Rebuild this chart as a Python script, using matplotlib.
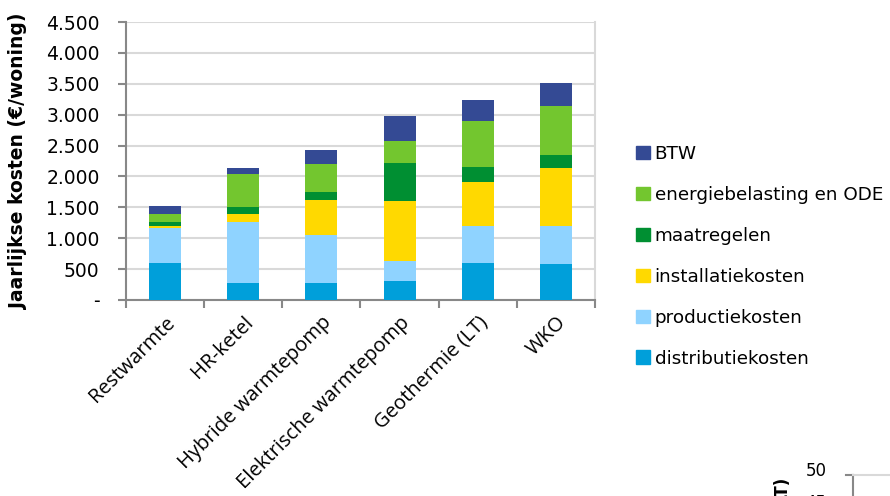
import numpy as np
import matplotlib
matplotlib.use("Agg")
import matplotlib.pyplot as plt
from matplotlib.ticker import FuncFormatter, FixedLocator
from matplotlib.patches import Patch

# data (EUR per dwelling per year)
categories = ["Restwarmte", "HR-ketel", "Hybride warmtepomp",
              "Elektrische warmtepomp", "Geothermie (LT)", "WKO"]
distributiekosten = [600, 270, 270, 310, 605, 575]
productiekosten = [565, 995, 775, 325, 595, 625]
installatiekosten = [30, 125, 580, 975, 705, 930]
maatregelen = [65, 120, 120, 610, 250, 215]
energiebelasting = [130, 530, 460, 350, 750, 790]
btw = [130, 95, 220, 405, 330, 375]

series = [
    ("distributiekosten", distributiekosten, "#009fda"),
    ("productiekosten", productiekosten, "#8fd3ff"),
    ("installatiekosten", installatiekosten, "#ffd900"),
    ("maatregelen", maatregelen, "#008f32"),
    ("energiebelasting en ODE", energiebelasting, "#73c62f"),
    ("BTW", btw, "#344a94"),
]

fig = plt.figure(figsize=(8.9, 4.96), dpi=100)
ax = fig.add_axes([126/890, 1-300/496, (595-126)/890, (300-22)/496])

x = np.arange(len(categories))
bottom = np.zeros(len(categories))
for name, vals, col in series:
    ax.bar(x, vals, width=0.41, bottom=bottom, color=col, label=name, zorder=3)
    bottom += np.array(vals)

ax.set_xlim(-0.5, len(categories) - 0.5)
ax.set_ylim(0, 4500)
ax.set_yticks(np.arange(0, 4501, 500))
ax.yaxis.set_major_formatter(FuncFormatter(
    lambda v, p: "-" if v == 0 else "{:,.0f}".format(v).replace(",", ".")))
ax.grid(axis="y", color="#d9d9d9", linewidth=1.5, zorder=0)

ax.set_xticks(x)
ax.set_xticklabels(categories, rotation=45, ha="right", rotation_mode="anchor",
                   fontsize=14.5, family="Open Sans")
ax.xaxis.set_minor_locator(FixedLocator(np.arange(-0.5, len(categories), 1.0)))
ax.tick_params(axis="x", which="major", length=0, pad=9)
ax.tick_params(axis="x", which="minor", length=6, width=1.5, color="#888888")
ax.tick_params(axis="y", length=6, width=1.5, color="#888888", labelsize=13.5, pad=13)

for s in ["left", "bottom"]:
    ax.spines[s].set_color("#888888")
    ax.spines[s].set_linewidth(1.5)
ax.spines["top"].set_visible(False)
ax.spines["right"].set_color("#d9d9d9")
ax.spines["right"].set_linewidth(1.5)

ax.set_ylabel("Jaarlijkse kosten (€/woning)", fontsize=13.5, fontweight="bold", labelpad=13)

handles = [Patch(color=col, label=name) for name, vals, col in series][::-1]
fig.legend(handles=handles, loc="upper left", bbox_to_anchor=(636/890, 1-145/496),
           frameon=False, fontsize=13.2, labelspacing=1.25, handlelength=0.75,
           handleheight=0.75, handletextpad=0.27, borderpad=0, borderaxespad=0)

# edge of the neighbouring chart, cut off at the bottom right
fig.text(816/890, 1-471/496, "50", fontsize=12, ha="center", va="center")
fig.text(816/890, 1-503/496, "45", fontsize=12, ha="center", va="center")
fig.text(782/890, 1-476/496, "(LT)", fontsize=12, fontweight="bold",
         rotation=90, ha="center", va="top")
fig.add_artist(plt.Line2D([853/890, 853/890], [1-475/496, 0], color="#888888", lw=1.5))
fig.add_artist(plt.Line2D([846/890, 853/890], [1-475/496, 1-475/496], color="#888888", lw=1.5))
fig.add_artist(plt.Line2D([853/890, 1], [1-475/496, 1-475/496], color="#d9d9d9", lw=1.5))

fig.savefig("out.png", dpi=100)
